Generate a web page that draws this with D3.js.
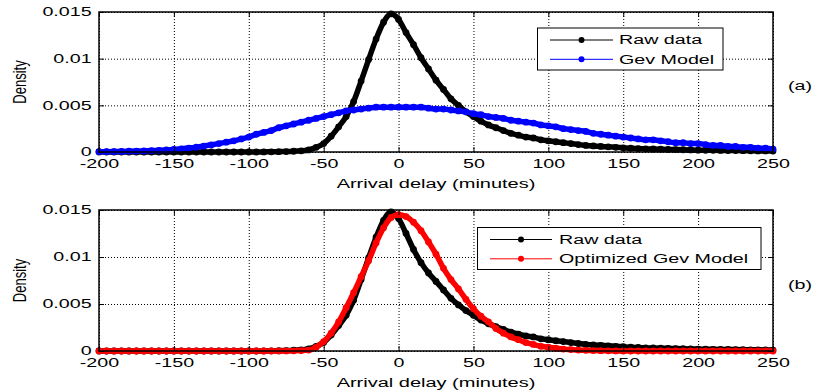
<!DOCTYPE html>
<html>
<head>
<meta charset="utf-8">
<script src="https://cdn.jsdelivr.net/npm/d3@7"></script>
<style>
  body { margin: 0; background: #fff; }
  svg { display: block; font-family: "Liberation Sans", Arial, sans-serif; }
</style>
</head>
<body>
<div id="chart"></div>
<script>
// sample grid (minutes) shared by all curves
const delays = d3.range(-200, 251, 5);

// raw density, panel (a)
const rawTop = [
  0, 0, 0, 0, 0, 0, 0, 0, 0, 0, 0, 0, 0, 0, 0, 0, 0, 0, 0, 0, 0,
  0, 0.00001, 0.00002, 0.00003, 0.00005, 0.00008, 0.00013, 0.00022, 0.0005, 0.0009,
  0.0017, 0.0027, 0.0038, 0.0054, 0.0076, 0.0099, 0.0121, 0.0139, 0.0148,
  0.0142, 0.0128, 0.0115, 0.0101, 0.0089, 0.0077, 0.0067, 0.0057, 0.0050, 0.0043,
  0.0038, 0.0033, 0.0029, 0.0026, 0.0023, 0.0020, 0.0018, 0.0016, 0.0015, 0.0013,
  0.0012, 0.0011, 0.0010, 0.0009, 0.0008, 0.0007, 0.00065, 0.0006, 0.00055, 0.0005,
  0.00045, 0.0004, 0.00037, 0.00034, 0.00032, 0.0003, 0.00028, 0.00026, 0.00024, 0.00022,
  0.0002, 0.00019, 0.00018, 0.00017, 0.00016, 0.00015, 0.00014, 0.00013, 0.00012, 0.00011,
  0.0001
];

// raw density, panel (b)
const rawBottom = [
  0, 0, 0, 0, 0, 0, 0, 0, 0, 0, 0, 0, 0, 0, 0, 0, 0, 0, 0, 0, 0,
  0, 0.00001, 0.00002, 0.00003, 0.00005, 0.00008, 0.00013, 0.00022, 0.0005, 0.0009,
  0.0017, 0.0027, 0.0038, 0.0054, 0.0076, 0.0099, 0.0121, 0.0139, 0.0148,
  0.0141, 0.0125, 0.0108, 0.0094, 0.0083, 0.0074, 0.0065, 0.0056, 0.0049, 0.0043,
  0.0038, 0.0033, 0.0029, 0.0026, 0.0023, 0.0020, 0.0018, 0.0016, 0.0015, 0.0013,
  0.0012, 0.0011, 0.0010, 0.0009, 0.0008, 0.0007, 0.00065, 0.0006, 0.00055, 0.0005,
  0.00045, 0.0004, 0.00037, 0.00034, 0.00032, 0.0003, 0.00028, 0.00026, 0.00024, 0.00022,
  0.0002, 0.00019, 0.00018, 0.00017, 0.00016, 0.00015, 0.00014, 0.00013, 0.00012, 0.00011,
  0.0001
];

const gevModel = [
  0.00003, 0.00004, 0.00005, 0.00006, 0.00008, 0.0001, 0.00012, 0.00015, 0.00018, 0.00022,
  0.00027, 0.00034, 0.00042, 0.00052, 0.00064, 0.00077, 0.0009, 0.00105, 0.0012, 0.0014, 0.0016,
  0.0019, 0.0021, 0.0023, 0.0026, 0.0028, 0.0030, 0.0032, 0.0034, 0.0036, 0.0038,
  0.0040, 0.0042, 0.0044, 0.0045, 0.0046, 0.0047, 0.0048, 0.0048, 0.0048,
  0.0048, 0.0048, 0.0048, 0.0048, 0.0047, 0.0046, 0.0046, 0.0045, 0.0044, 0.0043,
  0.0041, 0.0040, 0.0038, 0.0037, 0.0036, 0.0034, 0.0033, 0.0032, 0.0031, 0.0029,
  0.0028, 0.0027, 0.0025, 0.0024, 0.0023, 0.0022, 0.0020, 0.0019, 0.0018, 0.0017,
  0.0016, 0.0015, 0.0014, 0.0013, 0.0013, 0.0012, 0.0011, 0.0010, 0.0010, 0.0009,
  0.0009, 0.0008, 0.0007, 0.0007, 0.0006, 0.0006, 0.0005, 0.0005, 0.0004, 0.0004,
  0.0003
];

const optimizedGev = [
  0, 0, 0, 0, 0, 0, 0, 0, 0, 0, 0, 0, 0, 0, 0, 0, 0, 0, 0, 0, 0,
  0, 0, 0, 0, 0.00001, 0.00002, 0.00004, 0.0001, 0.0004, 0.0010,
  0.0019, 0.0031, 0.0046, 0.0062, 0.0079, 0.0096, 0.0115, 0.0131, 0.0142,
  0.0145, 0.0143, 0.0137, 0.0128, 0.0116, 0.0103, 0.0088, 0.0076, 0.0066, 0.0055,
  0.0045, 0.0037, 0.0031, 0.0024, 0.0019, 0.0015, 0.0012, 0.0009, 0.0007, 0.0005,
  0.0004, 0.0003, 0.0002, 0.00015, 0.0001, 0.00007, 0.00005, 0.00003, 0.00002, 0.00001,
  0, 0, 0, 0, 0, 0, 0, 0, 0, 0,
  0, 0, 0, 0, 0, 0, 0, 0, 0, 0,
  0
];

const xTicks = [-200, -150, -100, -50, 0, 50, 100, 150, 200, 250];
const yTicks = [0, 0.005, 0.01, 0.015];
const yTickLabels = ["0", "0.005", "0.01", "0.015"];

main();

function main() {
  const width = 813;
  const height = 392;
  const SX = 1.6; // the exported figure is stretched sideways

  const svg = d3.select("#chart").append("svg")
    .attr("width", width)
    .attr("height", height);

  svg.append("rect").attr("width", width).attr("height", height).attr("fill", "#fff");

  const x = d3.scaleLinear().domain([-200, 250]).range([99, 773]);

  const panels = [
    {
      top: 12, bottom: 152, tag: "(a)",
      series: [
        { name: "Raw data", values: rawTop, color: "#000000" },
        { name: "Gev Model", values: gevModel, color: "#0000ff" }
      ],
      legend: { x: 537.5, y: 28, w: 185.5, h: 42, x1: 550, x2: 613, tx: 619 }
    },
    {
      top: 210, bottom: 351, tag: "(b)",
      series: [
        { name: "Raw data", values: rawBottom, color: "#000000" },
        { name: "Optimized Gev Model", values: optimizedGev, color: "#ff0000" }
      ],
      legend: { x: 477.5, y: 227.5, w: 283.5, h: 42, x1: 490, x2: 552, tx: 559 }
    }
  ];

  panels.forEach(p => drawPanel(svg, x, p, SX));
}

function drawPanel(svg, x, p, SX) {
  const y = d3.scaleLinear().domain([0, 0.015]).range([p.bottom, p.top]);
  const h = p.bottom - p.top;
  const w = x.range()[1] - x.range()[0];
  const g = svg.append("g");

  // dotted grid
  g.append("g")
    .attr("transform", `translate(0,${p.bottom})`)
    .call(d3.axisBottom(x).tickValues(xTicks).tickSize(-h).tickFormat(""))
    .call(s => s.select(".domain").remove())
    .selectAll("line").attr("stroke", "#000").attr("stroke-dasharray", "1,2");
  g.append("g")
    .attr("transform", `translate(${x.range()[0]},0)`)
    .call(d3.axisLeft(y).tickValues(yTicks).tickSize(-w).tickFormat(""))
    .call(s => s.select(".domain").remove())
    .selectAll("line").attr("stroke", "#000").attr("stroke-dasharray", "1,2");

  // curves with dot markers
  const line = d3.line()
    .x((d, i) => x(delays[i]))
    .y(d => y(d))
    .curve(d3.curveMonotoneX);

  p.series.forEach(s => {
    g.append("path")
      .datum(s.values)
      .attr("d", line)
      .attr("fill", "none")
      .attr("stroke", s.color)
      .attr("stroke-width", 5.5)
      .attr("stroke-linejoin", "round");
    g.append("g").selectAll("circle")
      .data(s.values)
      .join("circle")
      .attr("cx", (d, i) => x(delays[i]))
      .attr("cy", d => y(d))
      .attr("r", 3.4)
      .attr("fill", s.color);
  });

  // axes: bottom and left with labels, ticks pointing inwards
  const bottomAxis = g.append("g")
    .attr("transform", `translate(0,${p.bottom})`)
    .call(d3.axisBottom(x).tickValues(xTicks).tickFormat(d => String(d))
      .tickSizeInner(-5).tickSizeOuter(0).tickPadding(7.5));
  const leftAxis = g.append("g")
    .attr("transform", `translate(${x.range()[0]},0)`)
    .call(d3.axisLeft(y).tickValues(yTicks).tickFormat((d, i) => yTickLabels[i])
      .tickSizeInner(-5).tickSizeOuter(0).tickPadding(4.6));
  g.append("g")
    .attr("transform", `translate(0,${p.top})`)
    .call(d3.axisTop(x).tickValues(xTicks).tickFormat("").tickSizeInner(-5).tickSizeOuter(0));
  g.append("g")
    .attr("transform", `translate(${x.range()[1]},0)`)
    .call(d3.axisRight(y).tickValues(yTicks).tickFormat("").tickSizeInner(-5).tickSizeOuter(0));

  g.selectAll(".domain").remove();
  g.selectAll(".tick line").filter(function () { return !this.getAttribute("stroke-dasharray"); })
    .attr("stroke", "#000").attr("stroke-width", 1);

  [bottomAxis, leftAxis].forEach(a => {
    a.attr("font-family", null).attr("font-size", 12.3);
    a.selectAll("text").attr("fill", "#000").attr("transform", `scale(${SX},1)`);
  });

  // plot box
  g.append("rect")
    .attr("x", x.range()[0]).attr("y", p.top)
    .attr("width", w).attr("height", h)
    .attr("fill", "none").attr("stroke", "#000").attr("stroke-width", 1.5);

  // titles
  g.append("text")
    .attr("transform", `translate(${(x.range()[0] + x.range()[1]) / 2},${p.bottom + 36}) scale(${SX},1)`)
    .attr("text-anchor", "middle").attr("font-size", 12.5)
    .text("Arrival delay (minutes)");
  g.append("text")
    .attr("transform", `translate(20,${(p.top + p.bottom) / 2}) scale(${SX * 0.85},1) rotate(-90)`)
    .attr("text-anchor", "middle").attr("dy", "0.35em").attr("font-size", 13)
    .text("Density");
  g.append("text")
    .attr("transform", `translate(788,${(p.top + p.bottom) / 2 + 8}) scale(${SX},1)`)
    .attr("font-size", 12.3)
    .text(p.tag);

  // legend
  const L = p.legend;
  const lg = g.append("g");
  lg.append("rect")
    .attr("x", L.x).attr("y", L.y).attr("width", L.w).attr("height", L.h)
    .attr("fill", "#fff").attr("stroke", "#000").attr("stroke-width", 1);
  p.series.forEach((s, i) => {
    const ry = L.y + 12 + i * 19.3;
    lg.append("line")
      .attr("x1", L.x1).attr("x2", L.x2).attr("y1", ry).attr("y2", ry)
      .attr("stroke", s.color).attr("stroke-width", 1);
    lg.append("circle")
      .attr("cx", (L.x1 + L.x2) / 2).attr("cy", ry).attr("r", 3).attr("fill", s.color);
    lg.append("text")
      .attr("transform", `translate(${L.tx},${ry}) scale(${SX},1)`)
      .attr("dy", "0.36em").attr("font-size", 12.3)
      .text(s.name);
  });
}
</script>
</body>
</html>
